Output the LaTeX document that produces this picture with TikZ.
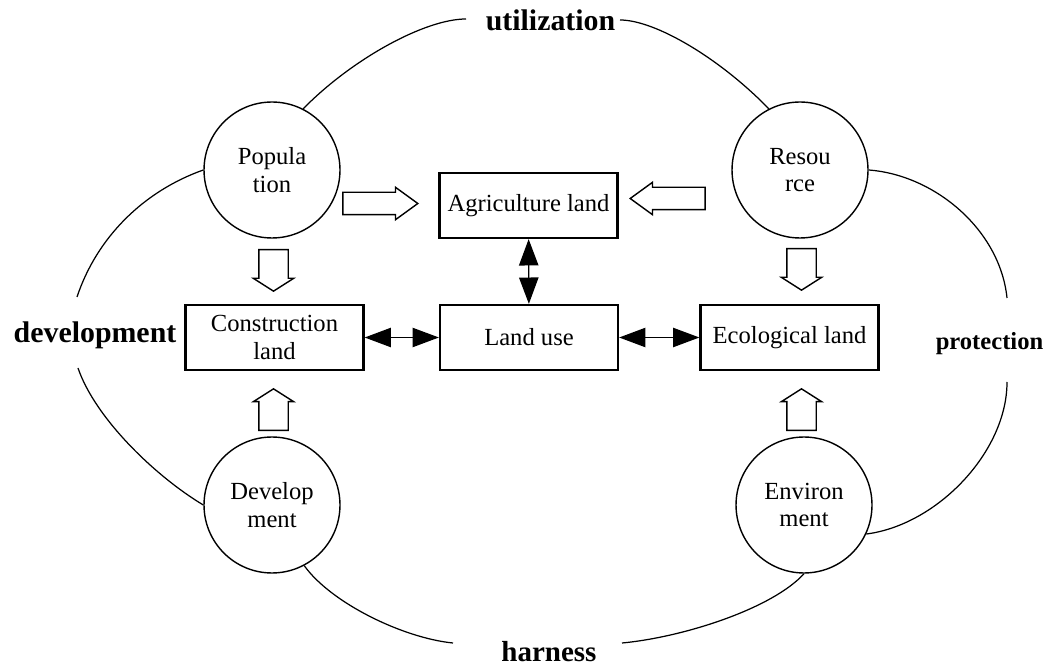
\documentclass[tikz,border=0pt]{standalone}
\usepackage{fontspec}
\setmainfont{Liberation Serif}
\usetikzlibrary{arrows.meta, shapes.arrows}

\begin{document}
\begin{tikzpicture}[
x=0.02cm, y=-0.02cm,
factor/.style={circle, draw, line width=0.8pt, minimum size=2.72cm, inner sep=0pt, align=center, font=\fontsize{14}{15.5}\selectfont},
landbox/.style={rectangle, draw, line width=1.3pt, minimum width=3.56cm, minimum height=1.3cm, inner sep=0pt, align=center, font=\fontsize{14}{15.5}\selectfont},
flowh/.style={single arrow, draw, line width=0.8pt, inner xsep=0pt, inner ysep=0.21cm, minimum height=1.5cm, single arrow head extend=0.1cm, single arrow tip angle=72, anchor=tip},
flowv/.style={single arrow, draw, line width=0.8pt, inner xsep=0pt, inner ysep=0.28cm, minimum height=0.83cm, single arrow head extend=0.11cm, single arrow tip angle=115, anchor=tip},
link/.style={{Triangle[length=15pt,width=11pt]}-{Triangle[length=15pt,width=11pt]}, line width=0.8pt},
ring/.style={line width=0.7pt},
mode/.style={anchor=base, inner sep=0pt}
]
\useasboundingbox (0,0) rectangle (1050,671);

\node[factor] (pop) at (272,170) {Popula\\tion};
\node[factor] (res) at (800,170) {Resou\\rce};
\node[factor] (dev) at (272,505) {Develop\\ment};
\node[factor] (env) at (804,505) {Environ\\ment};

\node[landbox] (agri) at (528.5,205.5) {Agriculture land};
\node[landbox] (con) at (274.5,337.5) {Construction\\land};
\node[landbox] (use) at (529,337.5) {Land use};
\node[landbox] (eco) at (789.5,337.5) {Ecological land};

\node[mode, font=\fontsize{17}{20}\selectfont\bfseries] (util) at (550.5,31) {utilization};
\node[mode, font=\fontsize{16.5}{20}\selectfont\bfseries] (harn) at (549,661) {harness};
\node[mode, font=\fontsize{17}{20}\selectfont\bfseries] (devl) at (95,343) {development};
\node[mode, font=\fontsize{14}{17}\selectfont\bfseries] (prot) at (989.5,350) {protection};

\coordinate (ut1) at (466,19);
\coordinate (ut2) at (620,20);
\coordinate (dv1) at (77,297);
\coordinate (dv2) at (78,368);
\coordinate (hn1) at (453,643);
\coordinate (hn2) at (622,643);
\coordinate (pr1) at (1007,298);
\coordinate (pr2) at (1007,382);

\draw[ring] (pop.63) .. controls (352,59) and (425,19) .. (ut1);
\draw[ring] (ut2) .. controls (655,20) and (719.5,58) .. (res.117);
\draw[ring] (pop.180) .. controls (144,191) and (97,237) .. (dv1);
\draw[ring] (dv2) .. controls (95,418) and (155,476) .. (dev.180);
\draw[ring] (dev.-62) .. controls (331,603) and (403,638) .. (hn1);
\draw[ring] (hn2) .. controls (685,637) and (773,608) .. (env.-90);
\draw[ring] (res.0) .. controls (935,175) and (1000,230) .. (pr1);
\draw[ring] (pr2) .. controls (1007,452) and (937,525) .. (env.-25);

\node[flowh] (fa) at (419,203.5) {};
\node[flowh, rotate=180] (fb) at (629,198.5) {};
\node[flowv, rotate=-90] (fc) at (273.5,292) {};
\node[flowv, rotate=90] (fd) at (273.5,388) {};
\node[flowv, rotate=-90] (fe) at (801.5,291) {};
\node[flowv, rotate=90] (ff) at (801.5,388) {};

\draw[link] (agri) -- (use);
\draw[link] (con) -- (use);
\draw[link] (use) -- (eco);

\end{tikzpicture}
\end{document}
